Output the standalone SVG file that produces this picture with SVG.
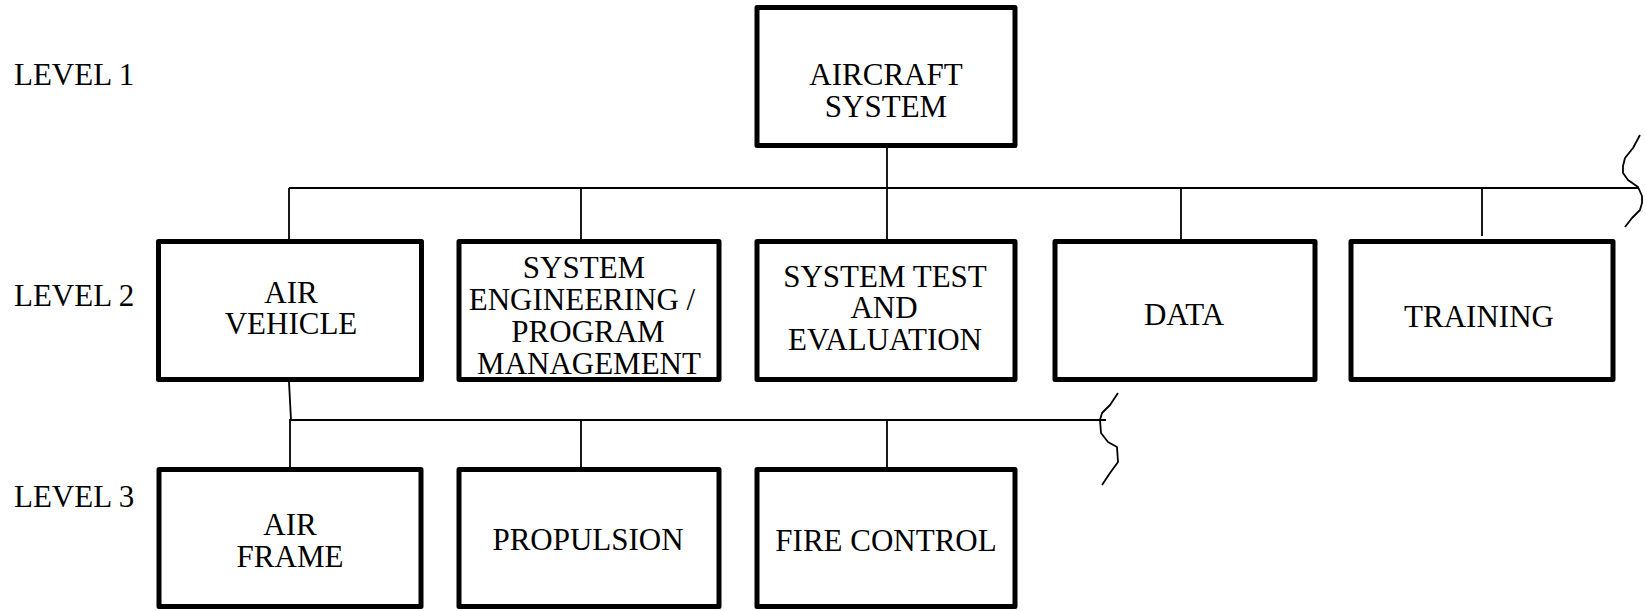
<svg xmlns="http://www.w3.org/2000/svg" width="1646" height="611" viewBox="0 0 1646 611">
<style>
.box{fill:#fff;stroke:#000;stroke-width:5;stroke-linejoin:round}
.ln{fill:none;stroke:#000;stroke-width:1.8}
.br{fill:none;stroke:#000;stroke-width:1.8;stroke-linejoin:round}
text{font-family:"Liberation Serif","Times New Roman",serif;font-size:31px;fill:#000}
.c{text-anchor:middle}
</style>
<rect width="1646" height="611" fill="#fff"/>
<g id="labels">
<text x="14" y="85">LEVEL 1</text>
<text x="14" y="306">LEVEL 2</text>
<text x="14" y="507">LEVEL 3</text>
</g>
<g id="connectors">
<line class="ln" x1="887" y1="146" x2="887" y2="240"/>
<line class="ln" x1="289" y1="188" x2="1638" y2="188"/>
<line class="ln" x1="289" y1="188" x2="289" y2="240"/>
<line class="ln" x1="581" y1="188" x2="581" y2="240"/>
<line class="ln" x1="1181" y1="188" x2="1181" y2="240"/>
<line class="ln" x1="1482" y1="188" x2="1482" y2="236"/>
<polyline class="br" points="1640,135 1633,148 1625,158 1623,166 1623,173 1628,180 1638,187 1642,196 1642,203 1640,210 1632,218 1625,227"/>
<polyline class="ln" points="289,382 291,420 290,420 290,468"/>
<line class="ln" x1="290" y1="420" x2="1106" y2="420"/>
<line class="ln" x1="581" y1="420" x2="581" y2="468"/>
<line class="ln" x1="887" y1="420" x2="887" y2="468"/>
<polyline class="br" points="1118,393 1110,405 1102,413 1100,420 1101,433 1108,442 1117,447 1118,462 1110,473 1102,485"/>
</g>
<g id="aircraft-system">
<rect class="box" x="757" y="7.5" width="258" height="138"/>
<text class="c" x="886" y="85">AIRCRAFT</text>
<text class="c" x="886" y="117">SYSTEM</text>
</g>
<g id="air-vehicle">
<rect class="box" x="158.5" y="241.5" width="263" height="138"/>
<text class="c" x="291" y="303">AIR</text>
<text class="c" x="291" y="334">VEHICLE</text>
</g>
<g id="system-engineering">
<rect class="box" x="459" y="241.5" width="260" height="138"/>
<text class="c" x="584" y="278">SYSTEM</text>
<text class="c" x="582" y="310">ENGINEERING /</text>
<text class="c" x="588" y="342">PROGRAM</text>
<text class="c" x="589" y="374">MANAGEMENT</text>
</g>
<g id="system-test">
<rect class="box" x="757" y="241.5" width="258" height="138"/>
<text class="c" x="885" y="287">SYSTEM TEST</text>
<text class="c" x="884" y="318">AND</text>
<text class="c" x="885" y="350">EVALUATION</text>
</g>
<g id="data">
<rect class="box" x="1055" y="241.5" width="260" height="138"/>
<text class="c" x="1184" y="325">DATA</text>
</g>
<g id="training">
<rect class="box" x="1351" y="241.5" width="262" height="138"/>
<text class="c" x="1479" y="327">TRAINING</text>
</g>
<g id="air-frame">
<rect class="box" x="159" y="469.5" width="262" height="137"/>
<text class="c" x="290" y="535">AIR</text>
<text class="c" x="290" y="567">FRAME</text>
</g>
<g id="propulsion">
<rect class="box" x="459" y="469.5" width="260" height="137"/>
<text class="c" x="588" y="550">PROPULSION</text>
</g>
<g id="fire-control">
<rect class="box" x="757" y="469.5" width="258" height="137"/>
<text class="c" x="886" y="551">FIRE CONTROL</text>
</g>
</svg>
